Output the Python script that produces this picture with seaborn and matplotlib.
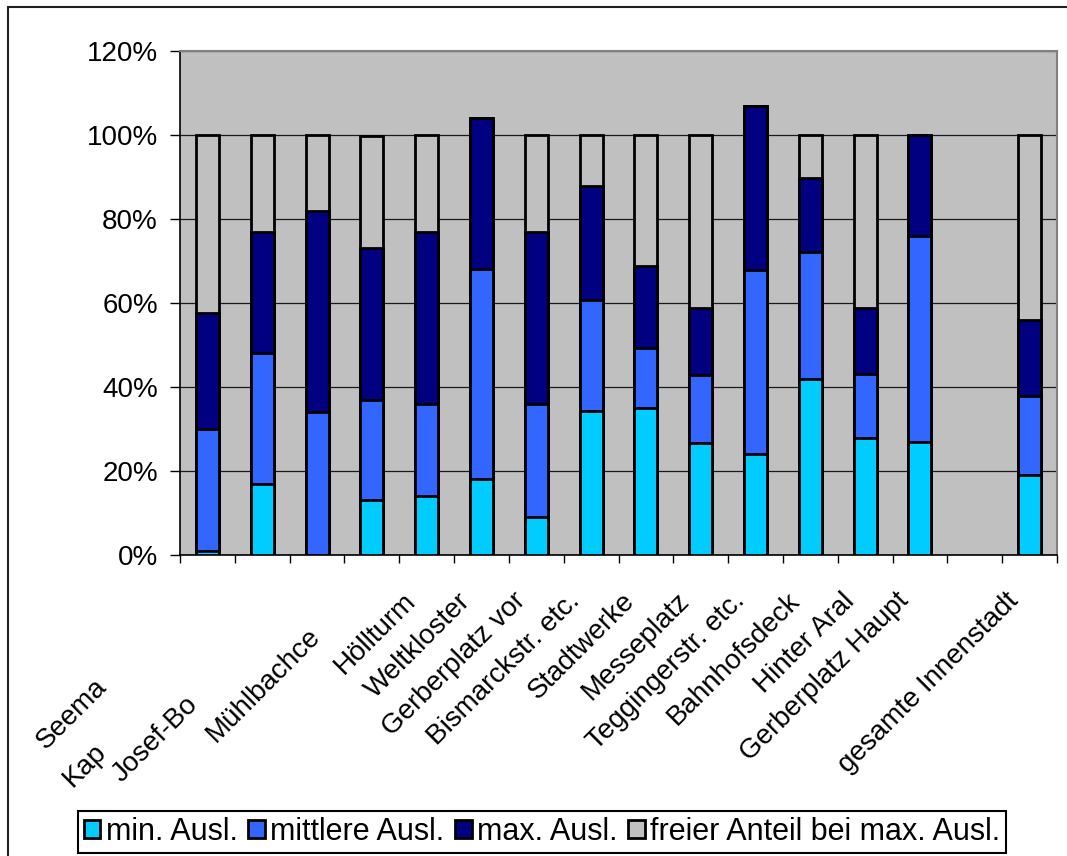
import numpy as np
import pandas as pd
import seaborn as sns
import matplotlib.pyplot as plt
from matplotlib.lines import Line2D
from matplotlib.transforms import offset_copy

# ---- data (percent of capacity, one entry per category slot) ----
slots = [f"s{i:02d}" for i in range(16)]
min_ausl = [1, 17, 0, 13, 14, 18, 9, 34.3, 35, 26.7, 24, 41.9, 27.9, 27, np.nan, 19]
mittlere_ausl = [29, 31, 34, 24, 22, 50, 27, 26.4, 14.3, 16.2, 43.9, 30.2, 15.1, 49, np.nan, 18.9]
max_ausl = [27.6, 29, 48, 36, 41, 36, 41, 27.2, 19.5, 15.9, 39, 17.7, 15.8, 24, np.nan, 18.1]
frei_anteil = [42.4, 23, 18, 26.7, 23, 0, 23, 12.1, 31.2, 41.2, 0, 10.2, 41.2, 0, np.nan, 44]

slot_labels = ["", "", "", "Höllturm", "Weltkloster", "Gerberplatz vor",
               "Bismarckstr. etc.", "Stadtwerke", "Messeplatz", "Teggingerstr. etc.",
               "Bahnhofsdeck", "Hinter Aral", "Gerberplatz Haupt", "",
               "gesamte Innenstadt", ""]
# clipped labels of the first three slots (slot, visible text)
clipped_labels = [(0, "Seema"), (0, "Kap"), (1, "Josef-Bo"), (2, "Mühlbachce")]

series_names = ["min. Ausl.", "mittlere Ausl.", "max. Ausl.", "freier Anteil bei max. Ausl."]
series_colors = ["#00CCFF", "#3366FF", "#000080", "#C0C0C0"]
yticks = [0, 20, 40, 60, 80, 100, 120]

df = pd.DataFrame({"slot": slots, "min": min_ausl, "mittel": mittlere_ausl,
                   "max": max_ausl, "frei": frei_anteil})
df["c_min"] = df["min"]
df["c_mittel"] = df["c_min"] + df["mittel"]
df["c_max"] = df["c_mittel"] + df["max"]
df["c_frei"] = df["c_max"] + df["frei"]

sns.set_style("ticks")
plt.rcParams["font.family"] = ["Liberation Sans", "DejaVu Sans"]
plt.rcParams["text.color"] = "black"
plt.rcParams["xtick.color"] = "black"
plt.rcParams["ytick.color"] = "black"
plt.rcParams["axes.labelcolor"] = "black"
FS = 20

W, H = 1067, 856
fig = plt.figure(figsize=(W / 100, H / 100), dpi=100)
ax = fig.add_axes([180 / W, 1 - 555 / H, (1057 - 180) / W, (555 - 51) / H])
ax.set_facecolor("#C0C0C0")

# stacked bars drawn as overlapping cumulative bars, tallest first
for col, name, color in zip(["c_frei", "c_max", "c_mittel", "c_min"],
                            series_names[::-1], series_colors[::-1]):
    sns.barplot(data=df, x="slot", y=col, order=slots, color=color, width=0.42,
                edgecolor="black", linewidth=2.0, saturation=1, errorbar=None,
                label=name, ax=ax, zorder=3)
if ax.get_legend() is not None:
    ax.get_legend().remove()

ax.set_xlim(-0.5, 15.5)
ax.set_ylim(0, 120)
ax.set_yticks(yticks)
ax.set_yticklabels([f"{v}%" for v in yticks], fontsize=FS)
ax.set_xticks(np.arange(-0.5, 16, 1))
ax.set_xticklabels([])
ax.set_xlabel("")
ax.set_ylabel("")
ax.tick_params(axis="y", direction="out", length=7, width=1.0, color="black", pad=9)
ax.tick_params(axis="x", direction="out", length=6, width=1.0, color="black")
ax.yaxis.grid(True, color="#1a1a1a", linewidth=0.9)
ax.xaxis.grid(False)
ax.set_axisbelow(True)
for side in ["left", "bottom"]:
    ax.spines[side].set_color("black")
    ax.spines[side].set_linewidth(1.2)
for side in ["top", "right"]:
    ax.spines[side].set_visible(True)
    ax.spines[side].set_color("#808080")
    ax.spines[side].set_linewidth(1.5)

# rotated category labels
base = ax.get_xaxis_transform()
lab_tr = offset_copy(base, fig=fig, x=45, y=-47, units="dots")
for i, txt in enumerate(slot_labels):
    if txt:
        ax.text(i, 0, txt, transform=lab_tr, rotation=45, rotation_mode="anchor",
                ha="right", va="baseline", fontsize=FS, clip_on=False)

clip_offsets = {"Seema": (-100, -133), "Kap": (-100, -198),
                "Josef-Bo": (-63, -151), "Mühlbachce": (4, -82)}
for i, txt in clipped_labels:
    dx, dy = clip_offsets[txt]
    tr = offset_copy(base, fig=fig, x=dx, y=dy, units="dots")
    ax.text(i, 0, txt, transform=tr, rotation=45, rotation_mode="anchor",
            ha="right", va="baseline", fontsize=FS, clip_on=False)

# legend in the order of the stack
h, l = ax.get_legend_handles_labels()
lookup = dict(zip(l, h))
leg = fig.legend([lookup[n] for n in series_names], series_names,
                 loc="center", bbox_to_anchor=(542 / W, 1 - 832 / H), ncol=4,
                 frameon=True, fancybox=False, framealpha=1, edgecolor="black",
                 fontsize=22, borderpad=0.2, handlelength=0.55, handleheight=0.55,
                 handletextpad=0.17, columnspacing=0.35, borderaxespad=0)
leg.get_frame().set_linewidth(1.5)

# outer chart border (top and left edges inside the image)
fig.add_artist(Line2D([8 / W, 1.0], [1 - 7 / H, 1 - 7 / H], transform=fig.transFigure,
                      color="#202020", linewidth=1.5))
fig.add_artist(Line2D([8 / W, 8 / W], [0.0, 1 - 7 / H], transform=fig.transFigure,
                      color="#202020", linewidth=1.5))

fig.savefig("out.png", dpi=100)
